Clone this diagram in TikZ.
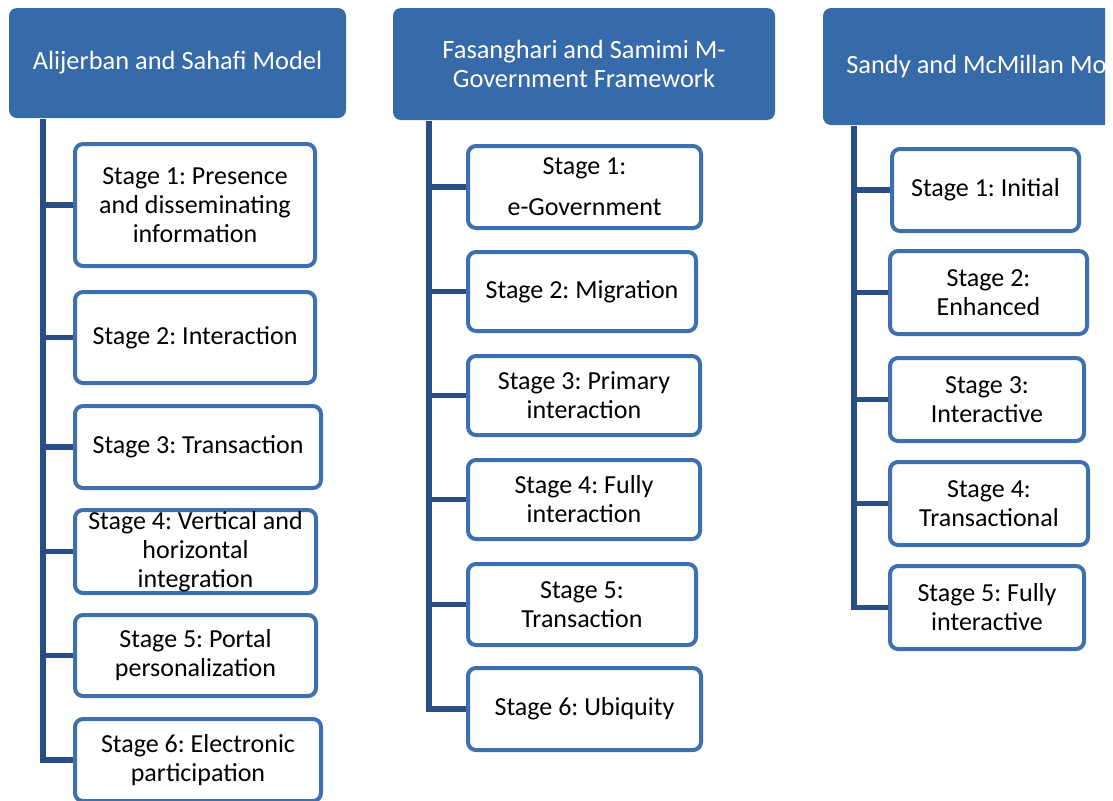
\documentclass[tikz,border=0pt]{standalone}
\usepackage{fontspec}
\setmainfont{Carlito}
\frenchspacing
\usetikzlibrary{positioning}
\definecolor{hdrblue}{RGB}{54,106,168}
\definecolor{boxblue}{RGB}{62,112,176}
\definecolor{trunkblue}{RGB}{43,77,134}
\tikzset{
  header/.style={fill=hdrblue, rounded corners=4pt, text=white, align=center,
    inner sep=0pt, font=\fontsize{13.2}{14.5}\selectfont},
  stagebox/.style={draw=boxblue, line width=2pt, fill=white, rounded corners=4pt,
    align=center, inner sep=0pt, font=\fontsize{13}{14.5}\selectfont},
  trunk/.style={trunkblue, line width=2.6pt}
}
\begin{document}
\begin{tikzpicture}[x=0.5pt,y=-0.5pt]
\useasboundingbox (0,0) rectangle (1113,800);
\begin{scope}
\clip (0,0) rectangle (1105,800);
% Headers
\node[header, minimum width=168.5pt, minimum height=55pt] (h1) at (177.5,63) {Alijerban and Sahafi Model};
\node[header, minimum width=191pt, minimum height=56pt] (h2) at (584,64) {Fasanghari and Samimi M-\\Government Framework};
\node[header, minimum width=170pt, minimum height=58.5pt] (h3) at (993,66.5) {Sandy and McMillan Model};
% First model
\node[stagebox, minimum width=120pt, minimum height=61pt] (a1) at (195,205) {Stage 1: Presence\\and disseminating\\information};
\node[stagebox, minimum width=120pt, minimum height=45.5pt] (a2) at (195,337.5) {Stage 2: Interaction};
\node[stagebox, minimum width=123pt, minimum height=41pt] (a3) at (198,447) {Stage 3: Transaction};
\node[stagebox, minimum width=120.5pt, minimum height=41.5pt] (a4) at (195.5,551.5) {Stage 4: Vertical and\\horizontal\\integration};
\node[stagebox, minimum width=120.5pt, minimum height=40.5pt] (a5) at (195.5,655.5) {Stage 5: Portal\\personalization};
\node[stagebox, minimum width=123pt, minimum height=41pt] (a6) at (198,760) {Stage 6: Electronic\\participation};
% Second model
\node[stagebox, minimum width=116.5pt, minimum height=41pt] (b1) at (584.5,187) {Stage 1:\\[6pt]e-Government};
\node[stagebox, minimum width=114pt, minimum height=39.5pt] (b2) at (582,291.5) {Stage 2: Migration};
\node[stagebox, minimum width=116pt, minimum height=39.5pt] (b3) at (584,395.5) {Stage 3: Primary\\interaction};
\node[stagebox, minimum width=116pt, minimum height=39.5pt] (b4) at (584,499.5) {Stage 4: Fully\\interaction};
\node[stagebox, minimum width=114pt, minimum height=40.5pt] (b5) at (582,604.5) {Stage 5:\\Transaction};
\node[stagebox, minimum width=116.5pt, minimum height=41pt] (b6) at (584.5,709) {Stage 6: Ubiquity};
% Third model
\node[stagebox, minimum width=93.5pt, minimum height=41pt] (c1) at (985.5,190) {Stage 1: Initial};
\node[stagebox, minimum width=98.5pt, minimum height=41.5pt] (c2) at (988.5,292.5) {Stage 2:\\Enhanced};
\node[stagebox, minimum width=97pt, minimum height=41.5pt] (c3) at (987,399.5) {Stage 3:\\Interactive};
\node[stagebox, minimum width=99pt, minimum height=41.5pt] (c4) at (989,503.5) {Stage 4:\\Transactional};
\node[stagebox, minimum width=97pt, minimum height=41.5pt] (c5) at (987,607.5) {Stage 5: Fully\\interactive};
% Trunks and branches
\coordinate (ta) at (43,119);
\coordinate (tb) at (429,121);
\coordinate (tc) at (854,126);
\draw[trunk] (ta) |- (a6.west);
\draw[trunk] (tb) |- (b6.west);
\draw[trunk] (tc) |- (c5.west);
\foreach \i in {1,...,5} {
  \draw[trunk] (ta |- a\i.west) -- (a\i.west);
  \draw[trunk] (tb |- b\i.west) -- (b\i.west);
}
\foreach \i in {1,...,4}
  \draw[trunk] (tc |- c\i.west) -- (c\i.west);
\end{scope}
\end{tikzpicture}
\end{document}
